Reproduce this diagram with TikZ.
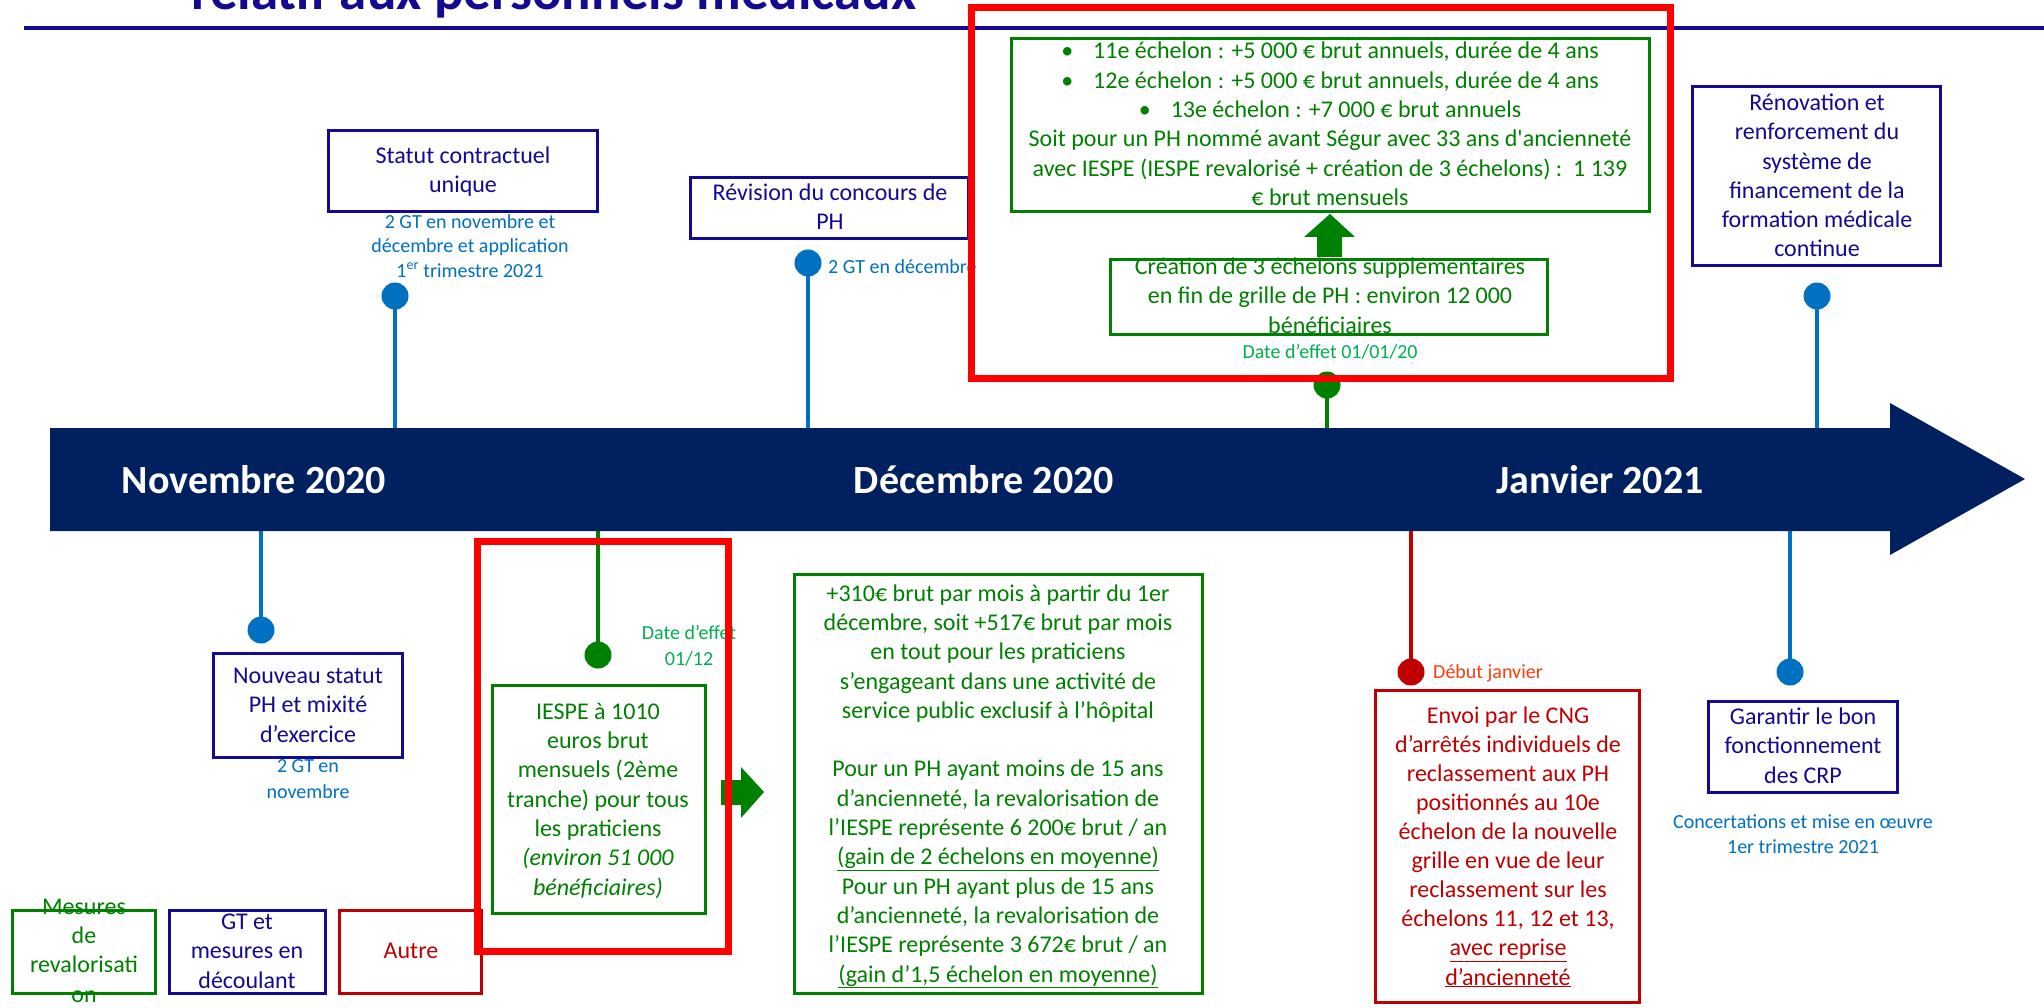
\documentclass[tikz,border=0pt]{standalone}
\usepackage{fontspec}
\setmainfont{Carlito}
\definecolor{navy}{RGB}{20,10,145}
\definecolor{barc}{HTML}{002060}
\definecolor{lblue}{HTML}{0070C0}
\definecolor{grn}{HTML}{008000}
\definecolor{lgrn}{HTML}{00B050}
\definecolor{dred}{HTML}{C00000}
\definecolor{hred}{HTML}{FF0000}
\definecolor{ored}{RGB}{255,60,10}
\newcommand\myfontL{\fontsize{24}{29.3}\selectfont}
\newcommand\myfontS{\fontsize{20}{24.5}\selectfont}
\begin{document}
\begin{tikzpicture}[x=1pt,y=-1pt,
  txt/.style={inner sep=0pt, align=center, anchor=base},
  boxn/.style={draw=navy, line width=2.8pt, inner sep=0pt},
  boxg/.style={draw=grn, line width=2.8pt, inner sep=0pt},
  boxr/.style={draw=dred, line width=2.8pt, inner sep=0pt},
  hilite/.style={draw=hred, line width=7pt, inner sep=0pt},
  dot/.style={circle, inner sep=0pt, minimum size=27pt},
  stemb/.style={lblue, line width=4.5pt},
  stemg/.style={grn, line width=4pt},
  stemr/.style={dred, line width=4.5pt},
  month/.style={txt, text=white, font=\fontsize{40}{48}\selectfont\bfseries}]
\useasboundingbox (0,0) rectangle (2044,1008);
\clip (0,0) rectangle (2044,1008);
\fill[white] (0,0) rectangle (2044,1008);

% title and rule
\node[anchor=base west, inner sep=0pt, text=navy, font=\fontsize{55}{60}\selectfont\bfseries] (title) at (191,10) {relatif aux personnels médicaux};
\coordinate (ruleL) at (24,28);
\coordinate (ruleR) at (2044,28);
\draw[navy, line width=4pt] (ruleL) -- (ruleR);

% stem end coordinates on the bar
\coordinate (s1) at (395,428);
\coordinate (s2) at (808,428);
\coordinate (s3) at (1327,428);
\coordinate (s4) at (1817,428);
\coordinate (s5) at (261,531);
\coordinate (s6) at (598,531);
\coordinate (s7) at (1411,531);
\coordinate (s8) at (1790,531);

% dots
\node[dot, fill=lblue] (d1) at (395,296) {};
\node[dot, fill=lblue] (d2) at (808,263) {};
\node[dot, fill=grn]   (d3) at (1327,385) {};
\node[dot, fill=lblue] (d4) at (1817,296) {};
\node[dot, fill=lblue] (d5) at (261,630) {};
\node[dot, fill=grn]   (d6) at (598,655) {};
\node[dot, fill=dred]  (d7) at (1411,672) {};
\node[dot, fill=lblue] (d8) at (1790,672) {};

% stems
\draw[stemb] (d1.center) -- (s1);
\draw[stemb] (d2.center) -- (s2);
\draw[stemg] (d3.center) -- (s3);
\draw[stemb] (d4.center) -- (s4);
\draw[stemb] (d5.center) -- (s5);
\draw[stemg] (d6.center) -- (s6);
\draw[stemr] (d7.center) -- (s7);
\draw[stemb] (d8.center) -- (s8);

% timeline bar
\fill[barc] (50,428) -- (1890,428) -- (1890,403) -- (2025,479) -- (1890,555) -- (1890,531) -- (50,531) -- cycle;
\node[month] (nov) at (254,493) {Novembre 2020};
\node[month] (dec) at (984,493) {Décembre 2020};
\node[month] (jan) at (1600,493) {Janvier 2021};

% A: Statut contractuel unique
\node[boxn, minimum width=269, minimum height=81] (statut) at (463,171) {};
\node[txt, text=navy, font=\myfontL] (statutT) at (463,193) {Statut contractuel\\unique};
\node[txt, text=lblue, font=\myfontS] (statutN) at (470,277) {2 GT en novembre et\\décembre et application\\1\textsuperscript{er} trimestre 2021};

% B: Revision du concours
\node[boxn, minimum width=278, minimum height=61] (revis) at (829.5,208) {};
\node[txt, text=navy, font=\myfontL] (revisT) at (830,230) {Révision du concours de\\PH};
\node[anchor=base west, inner sep=0pt, text=lblue, font=\myfontS] (revisN) at (828,273) {2 GT en décembre};

% C: top green boxes
\node[boxg, minimum width=638, minimum height=173] (echel) at (1330.5,125) {};
\node[txt, text=grn, font=\myfontL] (echelT) at (1330,205.5) {\textbullet\hspace{20pt}11e échelon : +5 000 € brut annuels, durée de 4 ans\\\textbullet\hspace{20pt}12e échelon : +5 000 € brut annuels, durée de 4 ans\\\textbullet\hspace{20pt}13e échelon : +7 000 € brut annuels\\Soit pour un PH nommé avant Ségur avec 33 ans d\textquotesingle ancienneté\\avec IESPE (IESPE revalorisé + création de 3 échelons) :\ \ 1 139\\€ brut mensuels};
\fill[grn] (1317,257) -- (1317,237) -- (1304,237) -- (1330,214) -- (1355,237) -- (1342,237) -- (1342,257) -- cycle;
\node[boxg, minimum width=437, minimum height=75] (creat) at (1329,297) {};
\node[txt, text=grn, font=\myfontL] (creatT) at (1330,333) {Création de 3 échelons supplémentaires\\en fin de grille de PH : environ 12 000\\bénéficiaires};
\node[txt, text=lgrn, font=\myfontS] (creatN) at (1330,358) {Date d’effet 01/01/20};

% D: Renovation
\node[boxn, minimum width=248, minimum height=179] (renov) at (1816.5,176) {};
\node[txt, text=navy, font=\myfontL] (renovT) at (1817,257) {Rénovation et\\renforcement du\\système de\\financement de la\\formation médicale\\continue};

% E: Nouveau statut
\node[boxn, minimum width=189, minimum height=104] (nouv) at (308,705.5) {};
\node[txt, text=navy, font=\myfontL] (nouvT) at (308,742) {Nouveau statut\\PH et mixité\\d’exercice};
\node[txt, text=lblue, font=\fontsize{20}{26}\selectfont] (nouvN) at (308,798) {2 GT en\\novembre};

% F: IESPE
\node[txt, text=lgrn, font=\fontsize{20}{26}\selectfont] (iespeN) at (689,665) {Date d’effet\\01/12};
\node[boxg, minimum width=213, minimum height=228] (iespe) at (599,799.5) {};
\node[txt, text=grn, font=\myfontL] (iespeT) at (598,895) {IESPE à 1010\\euros brut\\mensuels (2ème\\tranche) pour tous\\les praticiens\\\textit{(environ 51 000}\\\textit{bénéficiaires)}};
\fill[grn] (721,780) -- (741,780) -- (741,767) -- (764,792) -- (741,818) -- (741,805) -- (721,805) -- cycle;

% G: big green box
\node[boxg, minimum width=408, minimum height=419] (big) at (998.5,784) {};
\node[txt, text=grn, font=\myfontL] (bigT) at (998,982) {+310€ brut par mois à partir du 1er\\décembre, soit +517€ brut par mois\\en tout pour les praticiens\\s’engageant dans une activité de\\service public exclusif à l’hôpital\\[29.3pt]Pour un PH ayant moins de 15 ans\\d’ancienneté, la revalorisation de\\l’IESPE représente 6 200€ brut / an\\\underline{(gain de 2 échelons en moyenne)}\\Pour un PH ayant plus de 15 ans\\d’ancienneté, la revalorisation de\\l’IESPE représente 3 672€ brut / an\\\underline{(gain d’1,5 échelon en moyenne)}};

% H: Envoi par le CNG
\node[anchor=base west, inner sep=0pt, text=ored, font=\myfontS] (envoiN) at (1433,678) {Début janvier};
\node[boxr, minimum width=264, minimum height=312] (envoi) at (1507.5,846.5) {};
\node[txt, text=dred, font=\fontsize{24}{29.1}\selectfont] (envoiT) at (1508,985) {Envoi par le CNG\\d’arrêtés individuels de\\reclassement aux PH\\positionnés au 10e\\échelon de la nouvelle\\grille en vue de leur\\reclassement sur les\\échelons 11, 12 et 13,\\\underline{avec reprise}\\\underline{d’ancienneté}};

% I: Garantir
\node[boxn, minimum width=189, minimum height=91] (crp) at (1803,747) {};
\node[txt, text=navy, font=\myfontL] (crpT) at (1803,783) {Garantir le bon\\fonctionnement\\des CRP};
\node[txt, text=lblue, font=\myfontS] (crpN) at (1803,853) {Concertations et mise en œuvre\\1er trimestre 2021};

% J: legend
\node[boxg, minimum width=143, minimum height=83] (leg1) at (84,952) {};
\node[txt, text=grn, font=\myfontL] (leg1T) at (84,1002) {Mesures\\de\\revalorisati\\on};
\node[boxn, minimum width=156, minimum height=83] (leg2) at (247.5,952) {};
\node[txt, text=navy, font=\myfontL] (leg2T) at (247,988) {GT et\\mesures en\\découlant};
\node[boxr, minimum width=142, minimum height=83] (leg3) at (410.5,952) {};
\node[txt, text=dred, font=\myfontL] (leg3T) at (411,958) {Autre};

% red highlight frames
\node[hilite, minimum width=699, minimum height=370.5] (hiTop) at (1321,192.75) {};
\node[hilite, minimum width=251, minimum height=410] (hiLow) at (602.5,746.5) {};
\end{tikzpicture}
\end{document}
